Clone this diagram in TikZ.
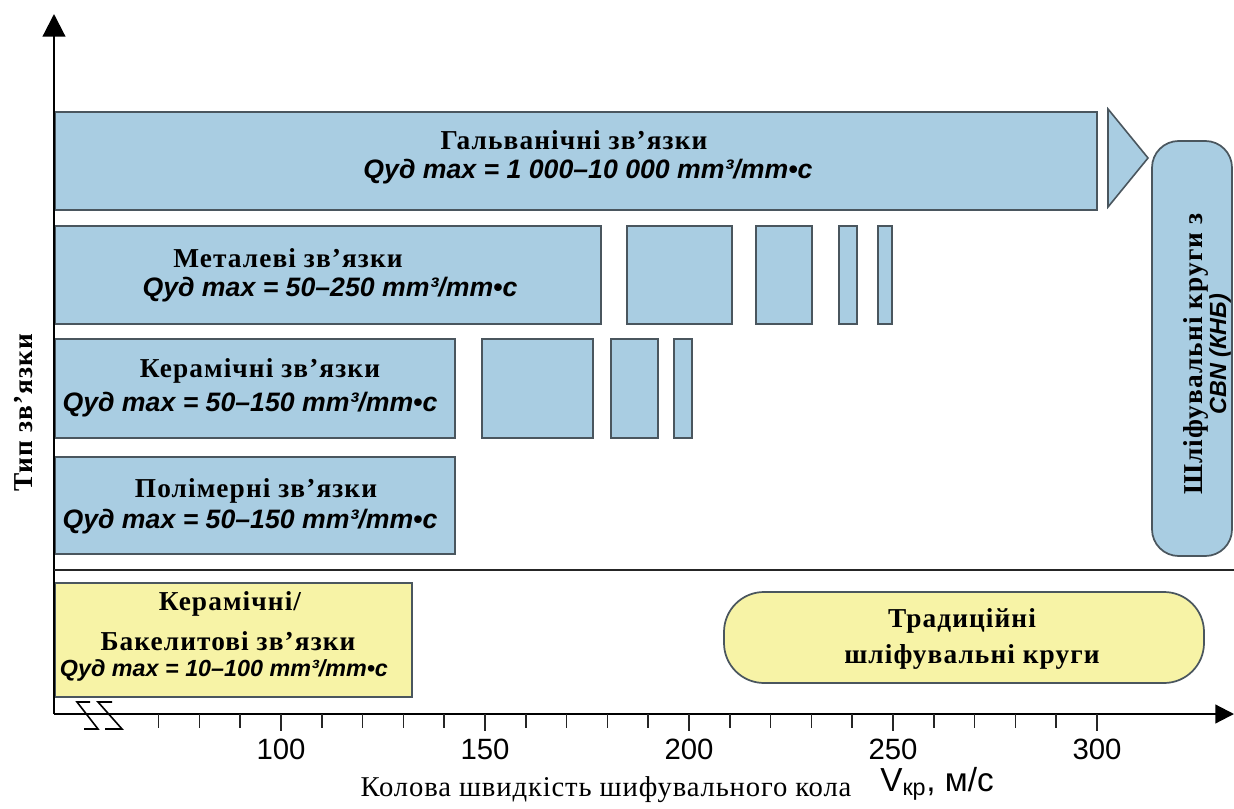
\documentclass[tikz,border=0pt]{standalone}
\usepackage{fontspec}
\setmainfont{Liberation Serif}
\newfontfamily\sansf{Liberation Sans}
\newfontfamily\ttlfont[LetterSpace=4]{Liberation Serif}
\newfontfamily\lblfont[LetterSpace=3]{Liberation Serif}
\usetikzlibrary{arrows.meta,fit}
\definecolor{bluefill}{HTML}{A9CDE2}
\definecolor{edgec}{HTML}{4A565E}
\definecolor{yelfill}{HTML}{F7F3A6}
\begin{document}
\begin{tikzpicture}[x=0.75pt,y=-0.75pt,
  bbox/.style={draw=edgec, fill=bluefill, line width=1.3pt, inner sep=0pt},
  ybox/.style={draw=edgec, fill=yelfill, line width=1.3pt, inner sep=0pt},
  ttl/.style={font=\ttlfont\bfseries\fontsize{20.5}{23}\selectfont, inner sep=0pt},
  frm/.style={font=\sansf\fontsize{20}{23}\selectfont\bfseries\itshape, inner sep=0pt},
  frms/.style={font=\sansf\fontsize{17.5}{21}\selectfont\bfseries\itshape, inner sep=0pt},
  tlab/.style={font=\sansf\fontsize{22}{24}\selectfont, inner sep=0pt},
  axis/.style={line width=1.6pt, draw=black},
  tickln/.style={line width=1.1pt, draw=black!85},
]
\useasboundingbox (0,0) rectangle (1234,809);

% boxes
\node[bbox, fit={(55,112) (1097,210)}] (gal) {};
\node[bbox, fit={(55,226) (601,324)}] (met) {};
\node[bbox, fit={(627,226) (732,324)}] (m1) {};
\node[bbox, fit={(756,226) (812,324)}] (m2) {};
\node[bbox, fit={(839,226) (857,324)}] (m3) {};
\node[bbox, fit={(878,226) (892,324)}] (m4) {};
\node[bbox, fit={(55,339) (455,438)}] (cer) {};
\node[bbox, fit={(482,339) (593,438)}] (c1) {};
\node[bbox, fit={(611,339) (658,438)}] (c2) {};
\node[bbox, fit={(674,339) (692,438)}] (c3) {};
\node[bbox, fit={(55,457) (455,554)}] (pol) {};
\node[ybox, fit={(55,583) (412,697)}] (bak) {};
\node[ybox, rounded corners=30pt, fit={(724,592) (1204,683)}] (trad) {};
\node[bbox, rounded corners=20pt, fit={(1152,141) (1232,556)}] (cbn) {};
% triangle arrow
\draw[draw=edgec, fill=bluefill, line width=1.2pt] (1108,109) -- (1148,158) -- (1108,207) -- cycle;

% texts
\node[ttl] (galT) at (574,140) {Гальванічні зв’язки};
\node[frm] (galF) at (588,172) {Qуд max = 1 000–10 000 mm³/mm•c};
\node[ttl] (metT) at (288,258) {Металеві зв’язки};
\node[frm] (metF) at (330,290) {Qуд max = 50–250 mm³/mm•c};
\node[ttl] (cerT) at (260,371) {Керамічні зв’язки};
\node[frm] (cerF) at (250,405) {Qуд max = 50–150 mm³/mm•c};
\node[ttl] (polT) at (256,491) {Полімерні зв’язки};
\node[frm] (polF) at (250,522) {Qуд max = 50–150 mm³/mm•c};
\node[ttl] (bakT1) at (230,604) {Керамічні/};
\node[ttl] (bakT2) at (228,641) {Бакелитові зв’язки};
\node[frms] (bakF) at (224,670) {Qуд max = 10–100 mm³/mm•c};
\node[ttl] (tradT1) at (962,621) {Традиційні};
\node[ttl] (tradT2) at (972,657) {шліфувальні круги};
\node[ttl, rotate=90] (cbnT) at (1196,354) {Шліфувальні круги з};
\node[frms, rotate=90] (cbnF) at (1220,354) {CBN (КНБ)};

% axes
\coordinate (O) at (54,714);
\coordinate (ytop) at (54,14);
\coordinate (xend) at (1234,714);
\draw[axis, -{Triangle[length=17pt,width=17pt]}] (O) -- (ytop);
\draw[axis, -{Triangle[length=14pt,width=14pt]}] (O) -- (xend);
\coordinate (sepL) at (54,570);
\coordinate (sepR) at (1234,570);
\draw[line width=1.4pt, draw=black!85] (sepL) -- (sepR);

% ticks
\foreach \v in {70,80,...,300}{
  \pgfmathsetmacro{\xx}{281+(\v-100)*4.08}
  \draw[tickln] (\xx,714) -- (\xx,728);
}
\foreach \v in {100,150,...,300}{
  \pgfmathsetmacro{\xx}{281+(\v-100)*4.08}
  \draw[tickln] (\xx,714) -- (\xx,731);
  \node[tlab] (t\v) at (\xx,749) {\v};
}
% axis break
\draw[line width=1.2pt] (90,702) -- (77,702) -- (98,729) -- (84,729);
\draw[line width=1.2pt] (112,702) -- (98,702) -- (122,729) -- (105,729);

% axis labels
\node[font=\ttlfont\bfseries\fontsize{20.5}{23}\selectfont, rotate=90, inner sep=0pt] (ylab) at (24,413) {Тип зв’язки};
\node[font=\lblfont\fontsize{21.5}{24}\selectfont, inner sep=0pt, anchor=base] (xlab) at (606,796) {Колова швидкість шифувального кола};
\node[font=\sansf\fontsize{25}{27}\selectfont, inner sep=0pt, anchor=base west] (vlab) at (880,791) {V\textsubscript{кр}, м/с};
\end{tikzpicture}
\end{document}
